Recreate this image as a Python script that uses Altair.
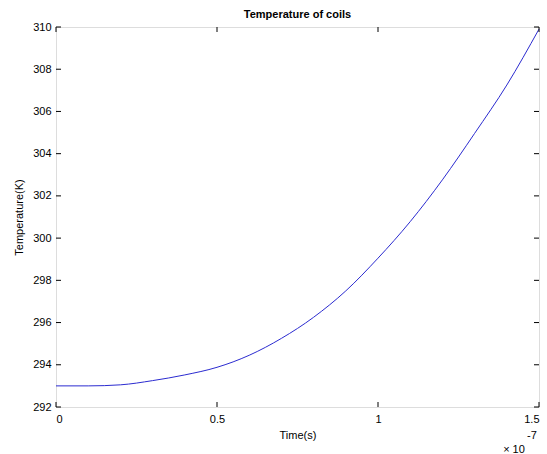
import altair as alt
import pandas as pd

# time in units of 1e-7 s
time_e7 = [0.0, 0.1, 0.2, 0.3, 0.4, 0.5, 0.6, 0.7, 0.8, 0.9, 1.0, 1.1, 1.2, 1.3, 1.4, 1.5]
temperature = [293.0, 293.0, 293.05, 293.25, 293.52, 293.88, 294.45, 295.25, 296.25,
               297.5, 299.05, 300.78, 302.76, 304.96, 307.25, 309.9]
x_ticks = [0.0, 0.5, 1.0, 1.5]
y_ticks = [292, 294, 296, 298, 300, 302, 304, 306, 308, 310]
multiplier = ["\u00d7 10"]
exponent = ["-7"]

W, H = 483, 380
FONT = "Liberation Sans"

df = pd.DataFrame({"t": time_e7, "T": temperature})
xt = pd.DataFrame({"v": x_ticks})
yt = pd.DataFrame({"v": y_ticks})

xscale = alt.Scale(domain=[0, 1.5], nice=False, zero=False)
yscale = alt.Scale(domain=[292, 310], nice=False, zero=False)

line = alt.Chart(df).mark_line(color="#2b2bd0", strokeWidth=1, interpolate="monotone").encode(
    x=alt.X("t:Q", scale=xscale,
            axis=alt.Axis(values=x_ticks, title="Time(s)", ticks=False, domain=False, grid=False,
                          labelFont=FONT, labelFontSize=11, labelColor="#000", labelPadding=6,
                          labelExpr="format(datum.value, '~g')",
                          titleFont=FONT, titleFontSize=11, titleFontWeight="normal",
                          titleColor="#000", titlePadding=5)),
    y=alt.Y("T:Q", scale=yscale,
            axis=alt.Axis(values=y_ticks, title="Temperature(K)", ticks=False, domain=False, grid=False,
                          labelFont=FONT, labelFontSize=11, labelColor="#000", labelPadding=5,
                          titleFont=FONT, titleFontSize=11, titleFontWeight="normal",
                          titleColor="#000", titlePadding=8)),
)

tk = 5
xb = alt.Chart(xt).mark_rule(color="#000", strokeWidth=1).encode(
    x=alt.X("v:Q", scale=xscale), y=alt.value(H), y2=alt.value(H - tk))
xtp = alt.Chart(xt).mark_rule(color="#000", strokeWidth=1).encode(
    x=alt.X("v:Q", scale=xscale), y=alt.value(0), y2=alt.value(tk))
yl = alt.Chart(yt).mark_rule(color="#000", strokeWidth=1).encode(
    y=alt.Y("v:Q", scale=yscale), x=alt.value(0), x2=alt.value(tk))
yr = alt.Chart(yt).mark_rule(color="#000", strokeWidth=1).encode(
    y=alt.Y("v:Q", scale=yscale), x=alt.value(W), x2=alt.value(W - tk))

times10 = alt.Chart(pd.DataFrame({"s": multiplier})).mark_text(
    font=FONT, fontSize=11, color="#000", align="center", fontWeight="normal").encode(
    x=alt.value(458), y=alt.value(H + 43), text="s:N")
exp = alt.Chart(pd.DataFrame({"s": exponent})).mark_text(
    font=FONT, fontSize=11, color="#000", align="center", fontWeight="normal").encode(
    x=alt.value(476), y=alt.value(H + 29), text="s:N")

chart = alt.layer(line, xb, xtp, yl, yr, times10, exp).properties(
    width=W, height=H,
    title=alt.Title("Temperature of coils", font=FONT, fontSize=11, fontWeight="bold",
                    color="#000", anchor="middle", offset=1),
    autosize=alt.AutoSizeParams(type="none"),
    padding={"left": 56, "top": 27, "right": 8, "bottom": 47},
).configure_view(stroke="#000", strokeWidth=1).configure(background="white")

chart.save("out.html", embed_options={"renderer": "svg", "actions": False})
